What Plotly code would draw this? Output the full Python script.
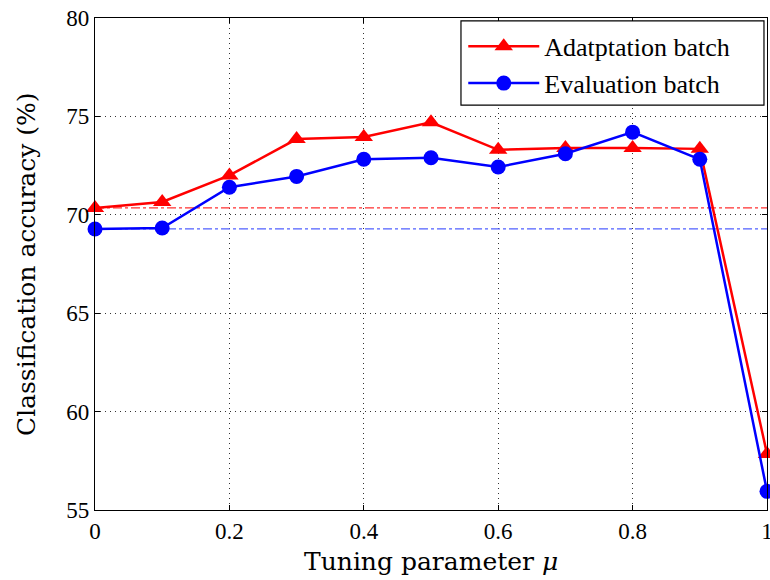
import plotly.graph_objects as go

mu = [0, 0.1, 0.2, 0.3, 0.4, 0.5, 0.6, 0.7, 0.8, 0.9, 1.0]
adapt = [70.35, 70.65, 72.0, 73.85, 73.95, 74.7, 73.3, 73.4, 73.4, 73.35, 57.85]
evalb = [69.28, 69.33, 71.4, 71.95, 72.82, 72.9, 72.43, 73.1, 74.2, 72.82, 55.95]
baseline_adapt = 70.35
baseline_eval = 69.28
xticks = [0, 0.2, 0.4, 0.6, 0.8, 1.0]
xticklabels = ["0", "0.2", "0.4", "0.6", "0.8", "1"]
yticks = [55, 60, 65, 70, 75, 80]

font = "Liberation Serif, Times New Roman, serif"
title_font = "DejaVu Serif, serif"

fig = go.Figure()
fig.add_trace(go.Scatter(x=[0, 1], y=[baseline_adapt]*2, mode="lines",
                         line=dict(color="#ff3030", width=1.2, dash="dashdot"),
                         showlegend=False, hoverinfo="skip"))
fig.add_trace(go.Scatter(x=[0, 1], y=[baseline_eval]*2, mode="lines",
                         line=dict(color="#5060ff", width=1.2, dash="dashdot"),
                         showlegend=False, hoverinfo="skip"))
fig.add_trace(go.Scatter(x=mu, y=adapt, mode="lines+markers", name="Adatptation batch",
                         line=dict(color="#ff0000", width=2.5),
                         marker=dict(symbol="triangle-up", size=16, color="#ff0000"),
                         cliponaxis=False))
fig.add_trace(go.Scatter(x=mu, y=evalb, mode="lines+markers", name="Evaluation batch",
                         line=dict(color="#0000ff", width=2.5),
                         marker=dict(symbol="circle", size=15, color="#0000ff"),
                         cliponaxis=False))

axis_common = dict(showline=True, linecolor="black", linewidth=1.2, mirror="ticks",
                   ticks="inside", ticklen=5, tickcolor="black",
                   showgrid=True, gridcolor="#333333", griddash="1px,4px", gridwidth=1,
                   zeroline=False, automargin=False, ticklabeloverflow="allow",
                   tickfont=dict(family=font, size=23, color="black"))

fig.update_layout(
    width=770, height=580,
    margin=dict(l=95, r=3, t=18, b=70, autoexpand=False),
    paper_bgcolor="white", plot_bgcolor="white",
    font=dict(family=font, color="black"),
    xaxis=dict(range=[0, 1], tickvals=xticks, ticktext=xticklabels, **axis_common),
    yaxis=dict(range=[55, 80], tickvals=yticks, **axis_common),
    legend=dict(x=0.548, y=0.99, xanchor="left", yanchor="top",
                bgcolor="rgba(0,0,0,0)", borderwidth=0,
                font=dict(family=font, size=26, color="black"),
                itemwidth=71, tracegroupgap=0),
    showlegend=True,
)

# legend frame
fig.add_shape(type="rect", xref="paper", yref="paper",
              x0=0.5446, x1=0.9955, y0=0.823, y1=0.994,
              line=dict(color="black", width=1.2), fillcolor="white", layer="above")

# axis titles
fig.add_annotation(text="Tuning parameter <i>μ</i>", xref="paper", yref="paper",
                   x=0.5, y=0, xanchor="center", yanchor="middle", yshift=-51,
                   showarrow=False, font=dict(family=title_font, size=25, color="black"))
fig.add_annotation(text="Classification accuracy (%)", xref="paper", yref="paper",
                   x=0, y=0.5, xanchor="center", yanchor="middle", xshift=-69,
                   textangle=-90, showarrow=False,
                   font=dict(family=title_font, size=25, color="black"))

fig.write_html("out.html", config={"displayModeBar": False},
               post_script="document.body.style.margin='0';document.body.style.overflow='hidden';")
